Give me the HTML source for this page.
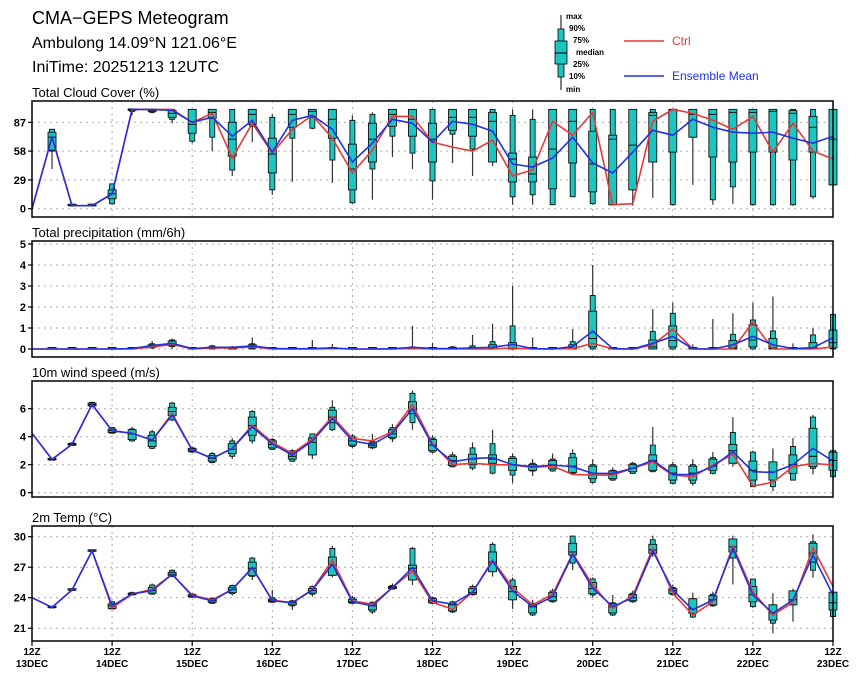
<!DOCTYPE html>
<html><head><meta charset="utf-8"><style>
body{margin:0;background:#fff}
svg{display:block;font-family:"Liberation Sans",sans-serif}
</style></head><body>
<svg id="chart" width="860" height="680" viewBox="0 0 860 680" xmlns="http://www.w3.org/2000/svg">
<text x="32" y="24" font-size="18" fill="#000">CMA−GEPS Meteogram</text>
<text x="32" y="48" font-size="16" fill="#000">Ambulong 14.09°N 121.06°E</text>
<text x="32" y="72" font-size="16" fill="#000">IniTime: 20251213 12UTC</text>
<g font-size="8" font-weight="bold">
<line x1="561" y1="15" x2="561" y2="90" stroke="#000" stroke-width="1"/>
<rect x="558" y="29" width="6" height="48" fill="#1cc6c0" stroke="#000" stroke-width="0.8"/>
<rect x="555" y="41" width="12" height="23" fill="#1cc6c0" stroke="#000" stroke-width="0.8"/>
<line x1="555" y1="53" x2="567" y2="53" stroke="#000"/>
<text x="566" y="19">max</text><text x="569" y="31">90%</text><text x="573" y="43">75%</text>
<text x="576" y="55">median</text><text x="573" y="67">25%</text><text x="569" y="79">10%</text><text x="566" y="92">min</text>
<line x1="624" y1="41" x2="664" y2="41" stroke="#e83838" stroke-width="1.5"/>
<text x="672" y="45" font-size="12" font-weight="normal" fill="#e83838">Ctrl</text>
<line x1="624" y1="76" x2="664" y2="76" stroke="#2232e0" stroke-width="1.5"/>
<text x="672" y="80" font-size="12" font-weight="normal" fill="#2232e0">Ensemble Mean</text>
</g>
<g id="panels"></g>
</svg>
<script>
const steps = 41;
const dayLabels = ["13DEC","14DEC","15DEC","16DEC","17DEC","18DEC","19DEC","20DEC","21DEC","22DEC","23DEC"];

const cloudMean = [0,72,3,3,15,100,100,99,87,92,73,89,57,89,94,80,47,66,90,86,67,88,85,78,45,42,51,72,46,36,57,79,74,90,82,77,76,77,71,66,73];
const cloudCtrl = [0,72,3,3,15,100,100,100,87,96,51,86,56,80,94,71,36,59,93,93,67,62,58,69,33,39,88,74,97,4,5,88,100,96,89,80,93,57,86,58,50];
const cloudMin = [0,40,2,2,4,94,96,86,66,58,33,67,14,27,80,26,5,9,52,40,9,46,33,43,4,4,4,12,4,3,3,11,3,24,4,5,3,3,3,10,24];
const cloudP10 = [0,58,3,3,5,98,97,90,68,72,39,83,19,71,81,49,6,40,73,56,28,75,60,47,12,14,4,12,5,4,19,47,4,72,9,22,4,4,4,12,24];
const cloudP25 = [0,59,3,3,10,99,98,92,76,91,53,85,36,82,92,71,19,47,83,73,47,79,73,47,27,27,20,46,17,4,19,47,57,72,52,47,57,57,49,57,24];
const cloudMed = [0,72,3,3,15,100,99,96,85,97,70,95,55,95,98,90,40,70,95,90,70,92,92,88,50,35,60,88,45,70,64,94,100,95,95,97,97,98,96,82,70];
const cloudP75 = [0,77,3,3,19,100,100,99,100,100,87,100,71,100,100,100,65,86,100,100,86,100,100,97,56,52,100,100,78,74,100,97,100,100,100,100,100,100,99,93,100];
const cloudP90 = [0,80,3,3,25,100,100,100,100,100,100,100,92,100,100,100,89,95,100,100,100,100,100,100,94,90,100,100,100,100,100,100,100,100,100,100,100,100,100,100,100];
const cloudMax = [0,80,3,3,25,100,100,100,100,100,100,100,95,100,100,100,94,97,100,100,100,100,100,100,100,100,100,100,100,100,100,100,100,100,100,100,100,100,100,100,100];
const cloudTicks = [0,29,58,87];

const precMean = [0,0,0,0,0,0.02,0.16,0.27,0.02,0.08,0.08,0.15,0.03,0.01,0.02,0.05,0,0,0.01,0.08,0.03,0.02,0.05,0.08,0.22,0.02,0,0.12,0.85,0.02,0,0.27,0.6,0.01,0,0.2,0.6,0.2,0.02,0.06,0.54];
const precCtrl = [0,0,0,0,0,0,0.1,0.22,0,0.05,0.05,0.1,0,0,0,0.02,0,0,0,0.03,0,0,0,0,0.05,0,0,0.02,0.27,0,0,0.2,0.95,0,0,0,1.27,0,0,0,0.1];
const precMin = [0,0,0,0,0,0,0,0,0,0,0,0,0,0,0,0,0,0,0,0,0,0,0,0,0,0,0,0,0,0,0,0,0,0,0,0,0,0,0,0,0];
const precP10 = [0,0,0,0,0,0,0.05,0.12,0,0,0,0,0,0,0,0,0,0,0,0,0,0,0,0,0,0,0,0,0,0,0,0,0,0,0,0,0,0,0,0,0];
const precP25 = [0,0,0,0,0,0,0.08,0.15,0,0.02,0,0.05,0,0,0,0,0,0,0,0,0,0,0,0,0,0,0,0,0.1,0,0,0,0.1,0,0,0,0.1,0,0,0,0.05];
const precMed = [0,0,0,0,0,0,0.12,0.25,0,0.05,0.03,0.1,0,0,0,0,0,0,0,0.02,0,0,0,0.02,0.05,0,0,0.05,0.5,0,0,0.1,0.4,0,0,0.05,0.43,0.05,0,0.05,0.3];
const precP75 = [0,0,0,0,0,0,0.2,0.38,0,0.1,0.08,0.2,0,0,0,0,0,0,0,0.05,0,0.05,0.08,0.2,0.3,0,0,0.2,1.8,0,0,0.43,1.1,0,0,0.4,1.15,0.5,0,0.3,0.9];
const precP90 = [0,0,0,0,0,0,0.25,0.43,0,0.15,0.1,0.25,0,0,0,0,0,0,0,0.1,0,0.1,0.15,0.35,1.1,0,0,0.35,2.55,0,0,0.83,1.7,0,0,0.7,1.38,0.86,0,0.67,1.65];
const precMax = [0,0,0,0,0,0.05,0.38,0.5,0,0.2,0.15,0.55,0.05,0,0.43,0.24,0,0,0,1.1,0.3,0.15,0.67,1.2,3.0,0.55,0,0.95,4.0,0.05,0,1.9,2.2,0.22,1.43,1.7,2.2,2.5,0.27,1.0,1.65];
const precTicks = [0,1,2,3,4,5];

const windMean = [4.25,2.38,3.45,6.3,4.43,4.24,3.76,5.55,3.05,2.45,3.17,4.7,3.48,2.69,3.7,5.3,3.7,3.45,4.24,6.0,3.4,2.2,2.45,2.5,2.0,1.86,1.98,1.86,1.38,1.38,1.74,2.33,1.3,1.3,1.86,2.93,1.5,1.45,2.0,3.17,2.26];
const windCtrl = [4.25,2.38,3.45,6.3,4.43,4.24,3.76,5.67,3.05,2.45,3.17,4.83,3.6,2.8,3.83,5.43,3.88,3.7,4.36,6.3,3.5,2.0,2.1,2.0,1.98,1.8,1.9,1.3,1.26,1.26,1.74,2.2,1.26,1.14,1.98,2.74,0.48,0.74,1.86,2.1,1.98];
const windMin = [4.25,2.3,3.35,6.1,4.2,3.65,3.1,5.1,2.85,2.1,2.4,3.5,3.05,2.2,2.4,4.4,3.2,3.1,3.6,4.5,2.8,1.8,1.6,1.3,0.7,1.2,1.5,1.3,0.65,0.85,1.35,1.5,0.6,0.5,1.3,1.85,0.4,0.1,0.9,1.3,1.1];
const windP10 = [4.25,2.32,3.38,6.15,4.25,3.7,3.17,5.2,2.9,2.15,2.6,3.7,3.1,2.25,2.7,4.5,3.3,3.2,3.85,5.0,2.9,1.85,1.75,1.4,1.26,1.55,1.55,1.38,0.74,0.9,1.38,1.5,0.67,0.67,1.38,2.1,0.43,0.43,0.9,1.74,1.14];
const windP25 = [4.25,2.34,3.4,6.2,4.3,3.8,3.3,5.5,2.95,2.25,2.8,4.1,3.2,2.4,2.7,5.0,3.4,3.25,3.95,5.65,3.0,1.95,2.0,2.1,1.6,1.6,1.7,1.45,1.0,1.0,1.5,1.6,0.9,0.9,1.6,2.1,0.9,0.9,1.38,1.86,1.6];
const windMed = [4.25,2.38,3.45,6.3,4.43,4.2,3.7,5.8,3.05,2.45,3.1,4.8,3.45,2.6,3.6,5.4,3.7,3.4,4.2,5.9,3.4,2.3,2.4,2.4,2.0,1.85,2.0,1.9,1.4,1.3,1.75,2.3,1.4,1.4,1.9,3.0,1.6,1.5,2.0,2.6,2.3];
const windP75 = [4.25,2.42,3.5,6.4,4.55,4.5,4.1,6.1,3.15,2.65,3.5,5.4,3.7,2.9,3.9,5.9,3.9,3.55,4.5,6.5,3.8,2.6,2.75,2.7,2.45,2.0,2.3,2.5,1.9,1.55,2.0,2.7,1.9,1.9,2.4,3.45,2.26,2.2,2.7,4.6,2.9];
const windP90 = [4.25,2.45,3.55,6.45,4.65,4.55,4.35,6.4,3.2,2.8,3.7,5.8,3.8,3.0,4.2,6.1,4.05,3.65,4.65,7.1,3.9,2.7,3.2,3.5,2.57,2.1,2.4,2.8,2.0,1.6,2.1,3.4,2.0,2.0,2.5,4.3,2.9,2.2,3.3,5.4,3.0];
const windMax = [4.25,2.5,3.6,6.5,4.7,4.7,4.5,6.5,3.3,2.9,3.9,5.9,3.9,3.1,4.2,6.6,4.2,4.2,4.9,7.3,4.1,2.9,3.6,4.5,2.8,2.4,2.8,3.1,2.4,1.8,2.2,4.7,2.2,2.4,2.9,5.4,3.0,3.17,3.9,5.55,3.1];
const windTicks = [0,2,4,6];

const tempMean = [24.0,23.06,24.76,28.6,23.2,24.37,24.7,26.3,24.18,23.7,24.83,26.96,23.7,23.5,24.76,27.3,23.6,23.2,25.0,26.96,23.7,23.36,24.54,27.6,24.67,23.13,24.1,28.27,24.93,23.13,24.0,28.6,24.76,22.8,23.78,28.85,24.27,22.47,23.78,28.2,24.27];
const tempCtrl = [24.0,23.06,24.76,28.6,23.0,24.37,24.83,26.3,24.25,23.78,24.83,26.9,23.78,23.5,24.8,27.7,23.7,23.36,25.0,26.63,23.55,22.87,24.54,27.7,25.0,23.3,24.34,28.36,25.25,22.96,24.2,28.85,24.44,22.3,23.6,29.1,24.54,22.3,23.55,28.9,25.1];
const tempMin = [24.0,22.95,24.7,28.5,22.85,24.25,24.3,26.0,24.0,23.4,24.2,25.75,23.5,22.8,24.1,26.0,23.4,22.4,24.8,25.25,23.4,22.5,24.2,26.07,22.9,22.2,23.5,26.7,24.0,22.2,23.5,28.0,24.2,22.0,23.1,25.3,23.0,20.5,21.65,25.97,22.15];
const tempP10 = [24.0,23.0,24.72,28.55,22.9,24.28,24.35,26.1,24.05,23.45,24.4,26.1,23.55,23.2,24.35,26.2,23.45,22.6,24.85,25.75,23.45,22.6,24.3,26.56,23.8,22.3,23.6,27.4,24.27,22.3,23.6,28.3,24.3,22.1,23.2,27.9,23.13,21.5,23.3,26.7,22.15];
const tempP25 = [24.0,23.02,24.74,28.57,22.95,24.3,24.45,26.15,24.1,23.55,24.5,26.2,23.6,23.3,24.45,26.2,23.5,22.8,24.9,25.75,23.5,22.7,24.35,26.56,23.8,22.5,23.7,28.2,24.4,22.5,23.7,28.36,24.4,22.47,23.3,28.5,23.6,21.8,23.3,27.5,22.8];
const tempMed = [24.0,23.06,24.76,28.6,23.2,24.37,24.7,26.3,24.18,23.7,24.8,26.9,23.7,23.5,24.7,27.2,23.6,23.2,25.0,26.9,23.7,23.3,24.5,27.5,24.6,23.1,24.1,28.5,24.9,23.1,24.0,28.7,24.7,22.9,23.8,29.0,24.3,22.5,23.8,28.4,23.5];
const tempP75 = [24.0,23.1,24.8,28.65,23.4,24.45,25.0,26.5,24.3,23.85,25.0,27.5,23.85,23.6,24.9,28.0,23.85,23.4,25.1,27.2,23.9,23.4,24.9,28.5,25.1,23.3,24.5,29.35,25.5,23.4,24.3,29.25,24.9,23.9,24.2,29.77,25.1,23.3,24.67,29.35,24.54];
const tempP90 = [24.0,23.12,24.82,28.7,23.6,24.5,25.25,26.7,24.35,23.95,25.2,27.9,24.0,23.7,25.1,28.85,24.0,23.55,25.2,28.85,24.0,23.6,25.1,29.25,25.75,23.45,24.67,30.06,25.84,23.5,24.44,29.7,25.0,23.9,24.34,29.77,25.84,23.3,24.67,29.5,24.54];
const tempMax = [24.0,23.15,24.85,28.75,23.7,24.6,25.4,26.8,24.45,24.05,25.3,28.0,24.76,23.8,25.2,29.1,24.2,23.65,25.4,29.0,24.1,23.7,25.3,29.45,26.0,23.8,24.9,30.06,26.0,24.27,24.7,30.1,25.3,24.5,24.6,30.1,25.84,24.44,24.9,30.23,25.2];
const tempTicks = [21,24,27,30];

const NS = "http://www.w3.org/2000/svg";
const X0 = 32, X1 = 833;
const xScale = i => X0 + (X1 - X0) * i / (steps - 1);
function mk(tag, attrs, parent) {
  const e = document.createElementNS(NS, tag);
  for (const k in attrs) e.setAttribute(k, attrs[k]);
  parent.appendChild(e);
  return e;
}
const root = document.getElementById('panels');

function panel(name, title, top, bottom, yScale, ticks, d, showX) {
  const g = mk('g', {}, root);
  
  
  const t = mk('text', {x: 32, y: top - 4, 'font-size': 13, fill: '#000'}, g);
  
  
  t.textContent = title;
  // grid
  for (let k = 1; k < dayLabels.length - 1; k++) {
    const x = xScale(k * 4);
    const l = mk('line', {x1: x, y1: top, x2: x, y2: bottom, stroke: '#aaa', 'stroke-width': 1, 'stroke-dasharray': '2,4'}, g);
    
    
  }
  ticks.forEach(v => {
    const y = yScale(v);
    const l = mk('line', {x1: X0, y1: y, x2: X1, y2: y, stroke: '#aaa', 'stroke-width': 1, 'stroke-dasharray': '2,4'}, g);
    
    
    mk('line', {x1: X0 - 4, y1: y, x2: X0, y2: y, stroke: '#000', 'stroke-width': 1.2}, g);
    const tl = mk('text', {x: X0 - 6, y: y + 4, 'font-size': 11, 'font-weight': 'bold', 'text-anchor': 'end', fill: '#000'}, g);
    
    
    tl.textContent = v;
  });
  // boxes
  for (let i = 1; i < steps; i++) {
    const x = xScale(i);
    const b = mk('g', {}, g);
    
    
    mk('line', {x1: x, y1: yScale(d.min[i]), x2: x, y2: yScale(d.max[i]), stroke: '#333', 'stroke-width': 1.2}, b);
    let y1 = yScale(d.p90[i]), y2 = yScale(d.p10[i]);
    mk('rect', {x: x - 2.5, y: Math.min(y1, y2 - 1.5), width: 5, height: Math.max(1.5, y2 - y1), fill: '#1cc6c0', stroke: '#111', 'stroke-width': 0.9}, b);
    y1 = yScale(d.p75[i]); y2 = yScale(d.p25[i]);
    mk('rect', {x: x - 4, y: Math.min(y1, y2 - 1.5), width: 8, height: Math.max(1.5, y2 - y1), fill: '#1cc6c0', stroke: '#111', 'stroke-width': 0.9}, b);
    const ym = yScale(d.med[i]);
    mk('line', {x1: x - 4, y1: ym, x2: x + 4, y2: ym, stroke: '#111', 'stroke-width': 1}, b);
  }
  const pts = arr => arr.map((v, i) => xScale(i).toFixed(1) + ',' + yScale(v).toFixed(1)).join(' ');
  const c = mk('polyline', {points: pts(d.ctrl), fill: 'none', stroke: '#e83838', 'stroke-width': 1.6}, g);
  
  
  const m = mk('polyline', {points: pts(d.mean), fill: 'none', stroke: '#2232e0', 'stroke-width': 1.6}, g);
  
  
  const f = mk('rect', {x: X0, y: top, width: X1 - X0, height: bottom - top, fill: 'none', stroke: '#000', 'stroke-width': 1.5}, g);
  
  
  if (showX) {
    dayLabels.forEach((lab, k) => {
      const x = xScale(k * 4);
      mk('line', {x1: x, y1: bottom, x2: x, y2: bottom + 5, stroke: '#000', 'stroke-width': 1.2}, g);
      const a = mk('text', {x: x, y: bottom + 14, 'font-size': 10, 'font-weight': 'bold', 'text-anchor': 'middle'}, g);
      
      
      a.textContent = '12Z';
      const b2 = mk('text', {x: x, y: bottom + 26, 'font-size': 10, 'font-weight': 'bold', 'text-anchor': 'middle'}, g);
      
      
      b2.textContent = lab;
    });
  }
}

panel('cloud', 'Total Cloud Cover (%)', 101, 217, v => 208.7 - 0.993 * v, cloudTicks,
  {mean: cloudMean, ctrl: cloudCtrl, min: cloudMin, p10: cloudP10, p25: cloudP25, med: cloudMed, p75: cloudP75, p90: cloudP90, max: cloudMax}, false);
panel('precip', 'Total precipitation (mm/6h)', 241, 357, v => 349 - 21 * v, precTicks,
  {mean: precMean, ctrl: precCtrl, min: precMin, p10: precP10, p25: precP25, med: precMed, p75: precP75, p90: precP90, max: precMax}, false);
panel('wind', '10m wind speed (m/s)', 381, 497, v => 492.7 - 14 * v, windTicks,
  {mean: windMean, ctrl: windCtrl, min: windMin, p10: windP10, p25: windP25, med: windMed, p75: windP75, p90: windP90, max: windMax}, false);
panel('temp', '2m Temp (°C)', 526, 641, v => 536.7 - (v - 30) * 10.17, tempTicks,
  {mean: tempMean, ctrl: tempCtrl, min: tempMin, p10: tempP10, p25: tempP25, med: tempMed, p75: tempP75, p90: tempP90, max: tempMax}, true);
</script>
</body></html>
